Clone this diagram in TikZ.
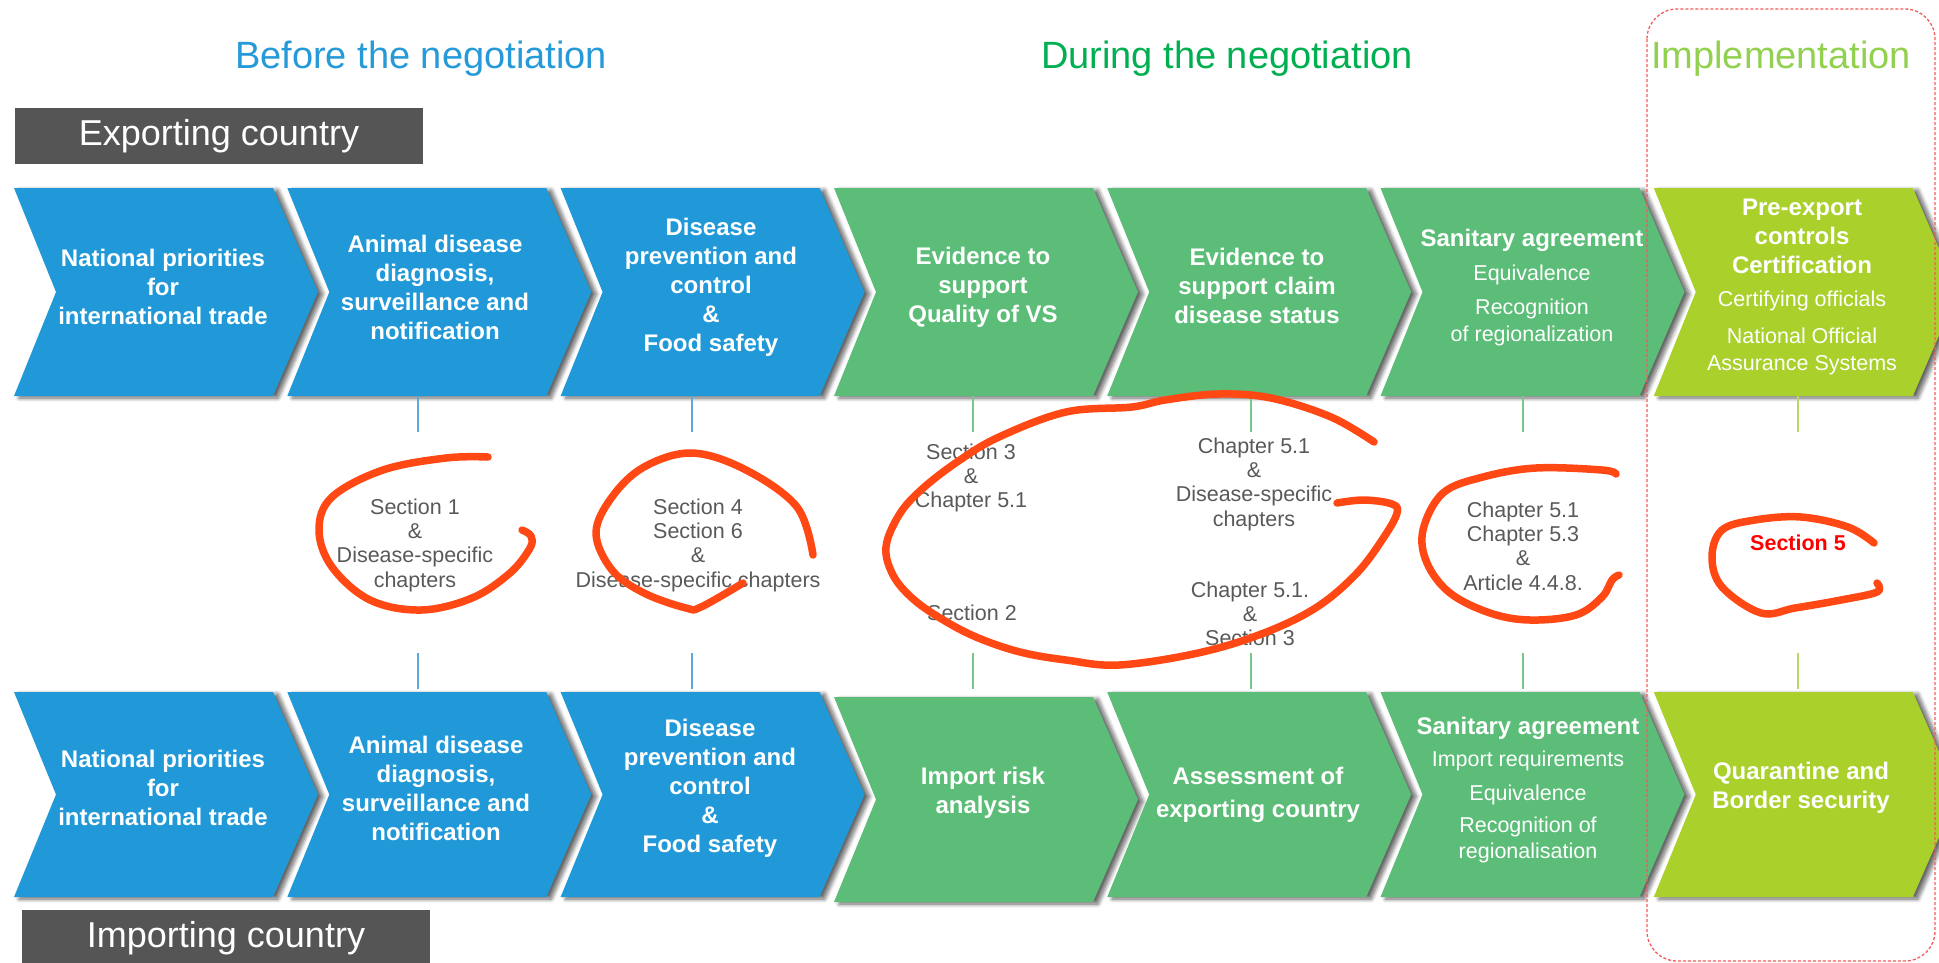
\documentclass[tikz,border=0pt]{standalone}
\usepackage{fontspec}
\setmainfont{Liberation Sans}
\usetikzlibrary{shadows.blur}

\definecolor{chevblue}{RGB}{33,153,216}
\definecolor{chevgreen}{RGB}{91,189,119}
\definecolor{chevlime}{RGB}{169,208,43}
\definecolor{titleblue}{RGB}{38,154,216}
\definecolor{titlegreen}{RGB}{0,176,80}
\definecolor{titlelime}{RGB}{146,208,80}
\definecolor{labelgrey}{RGB}{89,89,89}
\definecolor{boxgrey}{RGB}{85,85,85}
\definecolor{scribble}{RGB}{255,72,20}
\definecolor{framered}{RGB}{245,90,90}
\definecolor{stubblue}{RGB}{90,170,220}
\definecolor{stubgreen}{RGB}{120,200,140}
\definecolor{stublime}{RGB}{185,215,100}

\tikzset{
  chevshadow/.style={blur shadow={shadow xshift=5pt, shadow yshift=-2pt,
      shadow opacity=60, shadow blur radius=4pt, shadow blur steps=8}},
  steptext/.style={text=white, align=center,
      font=\fontsize{24}{29}\selectfont\bfseries},
  reftext/.style={text=labelgrey, align=center,
      font=\fontsize{21.5}{24.3}\selectfont},
  titletext/.style={font=\fontsize{38}{44}\selectfont, anchor=base},
  countrybox/.style={fill=boxgrey, text=white, minimum width=408pt,
      minimum height=56pt, inner sep=0pt, font=\fontsize{36}{40}\selectfont},
  stub/.style={line width=1.1pt},
  scrib/.style={draw=scribble, line width=7.5pt, line cap=round,
      line join=round},
  implframe/.style={draw=framered, line width=1.3pt,
      dash pattern=on 3pt off 2pt, rounded corners=30pt}
}

% one arrow-shaped process step: left x, top y, bottom y, fill colour
\newcommand{\chevpath}[4]{%
  \fill[#4, chevshadow] (#1,#2) -- ({#1+259},#2) -- ({#1+304},{(#2+#3)/2})
    -- ({#1+259},#3) -- (#1,#3) -- ({#1+42},{(#2+#3)/2}) -- cycle;}
\newcommand{\regfont}{\fontsize{21.5}{26}\selectfont\mdseries}

\begin{document}
\begin{tikzpicture}[x=1pt,y=-1pt]
\useasboundingbox (0,0) rectangle (1939,962);

% phase headings
\node[titletext, text=titleblue] (hBefore) at (421,68) {Before the negotiation};
\node[titletext, text=titlegreen] (hDuring) at (1227,68) {During the negotiation};
\node[titletext, text=titlelime] (hImpl) at (1781,68) {Implementation};

% country labels
\node[countrybox] (expBox) at (219,136) {Exporting country};
\node[countrybox] (impBox) at (226,938) {Importing country};

% exporting-country steps
\foreach \x/\c in {14/chevblue, 287.3/chevblue, 560.6/chevblue,
                   834/chevgreen, 1107.2/chevgreen, 1380.5/chevgreen,
                   1653.8/chevlime}
  {\chevpath{\x}{188}{396}{\c}}

% importing-country steps
\foreach \x/\c/\t/\b in {14/chevblue/692/897, 287.3/chevblue/692/897,
                   560.6/chevblue/692/897, 834/chevgreen/697/902,
                   1107.2/chevgreen/692/897, 1380.5/chevgreen/692/897,
                   1653.8/chevlime/692/897}
  {\chevpath{\x}{\t}{\b}{\c}}

% step texts, exporting country
\node[steptext] (e1) at (163,287) {National priorities\\for\\international trade};
\node[steptext] (e2) at (435,287) {Animal disease\\diagnosis,\\surveillance and\\notification};
\node[steptext] (e3) at (711,287) {Disease\\prevention and\\control\\\&\\Food safety};
\node[steptext] (e4) at (983,287) {Evidence to\\support\\Quality of VS};
\node[steptext] (e5) at (1257,286) {Evidence to\\support claim\\disease status};
\node[steptext] (e6) at (1532,288) {Sanitary agreement\\[5pt]{\regfont Equivalence}\\[5pt]{\regfont Recognition}\\[-2pt]{\regfont of regionalization}};
\node[steptext] (e7) at (1802,287) {Pre-export\\controls\\Certification\\[4pt]{\regfont Certifying officials}\\[8pt]{\regfont National Official}\\[-2pt]{\regfont Assurance Systems}};

% step texts, importing country
\node[steptext] (i1) at (163,788) {National priorities\\for\\international trade};
\node[steptext] (i2) at (436,788) {Animal disease\\diagnosis,\\surveillance and\\notification};
\node[steptext] (i3) at (710,788) {Disease\\prevention and\\control\\\&\\Food safety};
\node[steptext] (i4) at (983,793) {Import risk\\analysis};
\node[steptext] (i5) at (1258,795) {Assessment of\\[4pt]exporting country};
\node[steptext] (i6) at (1528,790) {Sanitary agreement\\[3pt]{\regfont Import requirements}\\[5pt]{\regfont Equivalence}\\[3pt]{\regfont Recognition of}\\[-3pt]{\regfont regionalisation}};
\node[steptext] (i7) at (1801,788) {Quarantine and\\Border security};

% short guide lines below and above the step rows
\foreach \x/\c [count=\i] in {418/stubblue, 692/stubblue, 973/stubgreen,
                              1251/stubgreen, 1523/stubgreen, 1798/stublime}
{
  \coordinate (ua\i) at (\x,396);
  \coordinate (ub\i) at (\x,432);
  \coordinate (la\i) at (\x,653);
  \coordinate (lb\i) at (\x,689);
  \draw[stub, \c] (ua\i) -- (ub\i);
  \draw[stub, \c] (la\i) -- (lb\i);
}

% references to the Code
\node[reftext] (r1) at (415,545) {Section 1\\\&\\Disease-specific\\chapters};
\node[reftext] (r2) at (698,545) {Section 4\\Section 6\\\&\\Disease-specific chapters};
\node[reftext] (r3) at (971,478) {Section 3\\\&\\Chapter 5.1};
\node[reftext] (r4) at (972,613) {Section 2};
\node[reftext] (r5) at (1254,484) {Chapter 5.1\\\&\\Disease-specific\\chapters};
\node[reftext] (r6) at (1250,614) {Chapter 5.1.\\\&\\Section 3};
\node[reftext] (r7) at (1523,546) {Chapter 5.1\\Chapter 5.3\\\&\\Article 4.4.8.};
\node[reftext, text=red, font=\fontsize{21.5}{24}\selectfont\bfseries] (r8) at (1798,543) {Section 5};

% hand-drawn marks
\draw[scrib] plot[smooth, tension=0.6] coordinates {(488,457) (446,458) (383,470)
  (332,497) (319,530) (332,567) (370,600) (421,610) (472,598) (510,573)
  (530,548) (531,536) (522,530)};
\draw[scrib] plot[smooth, tension=0.6] coordinates {(813,555) (797,507) (746,470)
  (692,453) (644,467) (612,497) (596,533) (612,570) (644,593) (686,608)
  (701,607) (743,583)};
\draw[scrib] plot[smooth, tension=0.6] coordinates {(1374,442) (1331,417)
  (1271,398) (1218,394) (1165,400) (1132,407) (1066,412) (999,437) (957,462)
  (921,490) (899,515) (886,547) (893,575) (912,598) (940,618) (976,637)
  (1020,652) (1066,660) (1119,665) (1198,653) (1264,633) (1317,607)
  (1357,573) (1384,537) (1397,513) (1392,504) (1364,500) (1337,503)};
\draw[scrib] plot[smooth, tension=0.6] coordinates {(1616,474) (1602,470)
  (1536,468) (1483,477) (1443,493) (1423,530) (1427,563) (1450,593)
  (1490,613) (1530,620) (1576,615) (1602,597) (1612,580) (1619,575)};
\draw[scrib] plot[smooth, tension=0.6] coordinates {(1874,543) (1848,527)
  (1801,517) (1755,520) (1722,530) (1712,557) (1722,587) (1761,613)
  (1795,608) (1841,600) (1877,592) (1877,583)};

% implementation phase frame
\draw[implframe] (1647,9) rectangle (1935,961);
\end{tikzpicture}
\end{document}
